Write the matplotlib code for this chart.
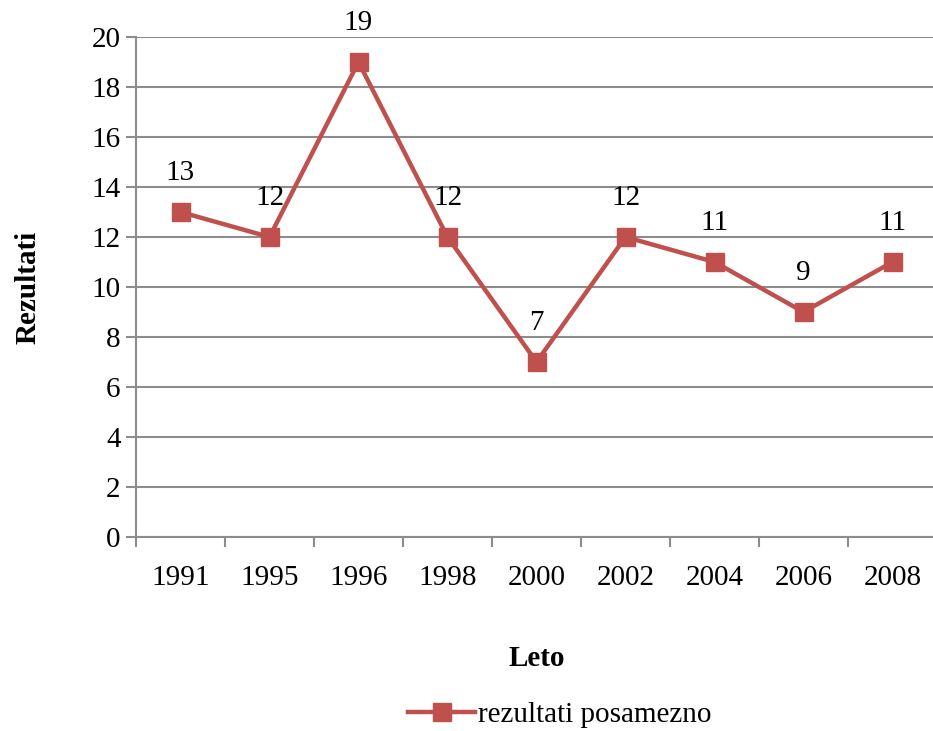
import matplotlib.pyplot as plt
import numpy as np

plt.rcParams['font.family'] = ['Liberation Serif', 'DejaVu Serif']

leta = ['1991', '1995', '1996', '1998', '2000', '2002', '2004', '2006', '2008']
rezultati = [13, 12, 19, 12, 7, 12, 11, 9, 11]

W, H = 933, 731
fig = plt.figure(figsize=(W / 100, H / 100), dpi=100)
ax = fig.add_axes([136 / W, 1 - 537 / H, 801 / W, 500 / H])

rdeca = '#C0504D'
grid_c = '#8C8C8C'
fs = 21

x = np.arange(len(leta))
ax.plot(x, rezultati, color=rdeca, lw=3.2, marker='s', markersize=13,
        markerfacecolor=rdeca, markeredgecolor=rdeca, label='rezultati posamezno',
        zorder=3, clip_on=False)

for xi, v in zip(x, rezultati):
    ax.annotate(str(v), (xi, v), xytext=(0, 28), textcoords='offset points',
                ha='center', va='center', fontsize=fs)

ax.set_xlim(-0.5, len(leta) - 0.5)
ax.set_ylim(0, 20)
ax.set_yticks(range(0, 21, 2))
ax.set_xticks(x)
ax.set_xticklabels(leta)
ax.set_xticks(np.arange(-0.5, len(leta), 1), minor=True)

ax.yaxis.grid(True, color=grid_c, lw=1.5)
ax.set_axisbelow(True)
for s in ['top', 'right']:
    ax.spines[s].set_visible(False)
for s in ['left', 'bottom']:
    ax.spines[s].set_color(grid_c)
    ax.spines[s].set_linewidth(1.5)

ax.tick_params(axis='y', length=7, width=1.5, color=grid_c, labelsize=fs, pad=4)
ax.tick_params(axis='x', which='major', length=0, labelsize=fs, pad=20)
ax.tick_params(axis='x', which='minor', length=7, width=1.5, color=grid_c)

ax.set_xlabel('Leto', fontsize=fs, fontweight='bold', labelpad=39)
ax.set_ylabel('Rezultati', fontsize=fs, fontweight='bold', labelpad=36)

fig.legend(loc='center', bbox_to_anchor=(560 / W, 1 - 715 / H), frameon=False,
           fontsize=fs, handlelength=2.3, handletextpad=0.1)

fig.savefig('out.png', dpi=100)
